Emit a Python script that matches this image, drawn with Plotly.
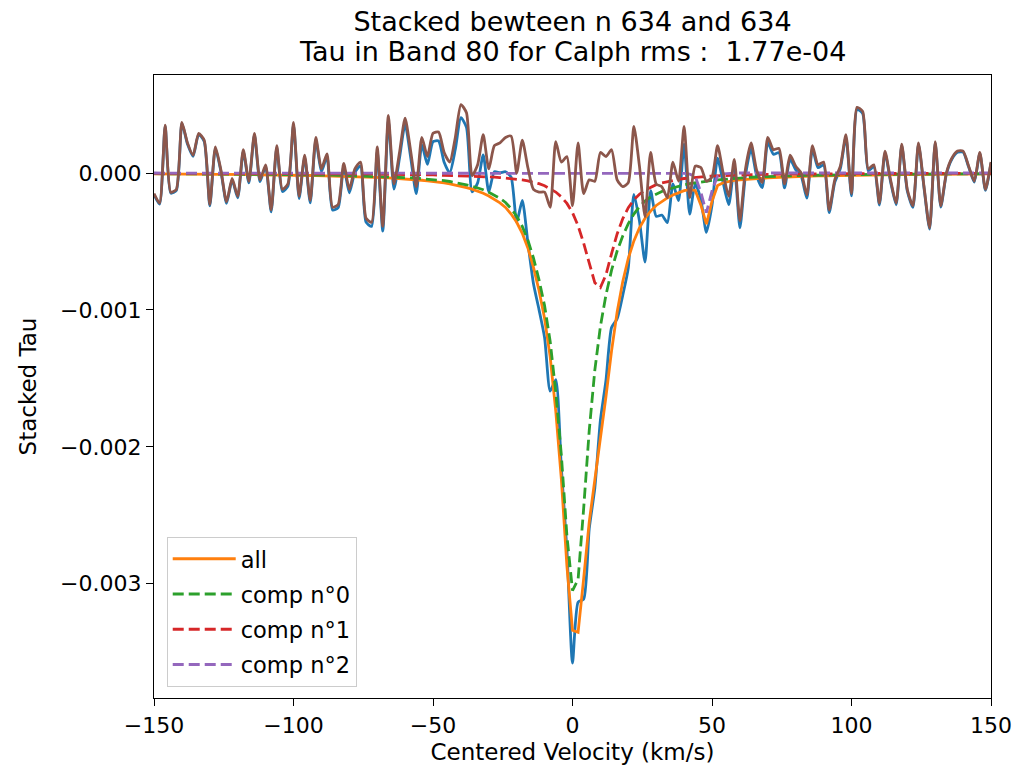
import plotly.graph_objects as go

# Velocity channels (km/s)
velocity = list(range(-150, 151, 2))

# Residual (data - fit), units of 1e-4
residual_e4 = [
    -1.5, -2.2, 3.5, -1.4, -1.2, 3.7, 2.2, 1.3, 2.9, 2.4,
    -2.3, 1.9, 0.2, -2.1, -0.4, -1.7, 1.7, -0.6, 2.9, -0.5,
    0.6, -2.7, 2.0, -1.2, -0.8, 3.7, -1.7, 1.3, -2.0, 2.6,
    0.3, 1.4, -2.5, -2.3, 0.7, -1.2, 0.3, 0.8, -3.3, -3.6,
    1.9, -3.9, 4.2, -0.8, 1.5, 4.0, 1.6, -1.0, 2.6, 1.2,
    2.9, 3.0, 1.5, 0.8, 2.6, 5.0, 4.4, -0.2, 0.6, 2.8,
    0.3, 2.0, 2.2, 2.6, 2.7, 0.0, 2.4, 0.4, -1.2, -1.4,
    -1.4, -2.5, 2.3, 0.8, 1.2, -2.4, 2.2, -1.5, -0.5, -0.6,
    1.5, 1.2, 1.7, -0.5, -1.0, -0.7, 3.4, 0.5, -3.2, 1.5,
    -0.8, -1.0, -1.8, 0.8, -0.6, 3.4, -1.8, 0.5, 0.4, -0.6,
    -0.3, 2.0, 0.0, -1.7, 1.0, -3.5, 0.3, 2.2, 0.2, -0.7,
    2.6, 1.7, 1.8, -0.8, 1.3, 0.5, 0.0, -1.6, 2.0, 0.6,
    0.8, -2.7, -0.5, 0.5, 2.8, -1.5, 4.8, 4.5, 0.3, 0.6,
    -2.2, 1.6, -0.5, -2.2, 2.1, -1.2, -2.4, 2.2, -1.0, -4.0,
    2.3, -2.4, 0.0, 1.1, 1.6, 1.6, 0.5, -0.6, 1.5, -1.2,
    0.8,
]

# Fit component n°0, units of 1e-4
comp0_e4 = [
    -0.05, -0.05, -0.05, -0.05, -0.06, -0.06, -0.06, -0.06, -0.06, -0.07,
    -0.07, -0.07, -0.07, -0.08, -0.08, -0.08, -0.09, -0.09, -0.09, -0.10,
    -0.10, -0.10, -0.11, -0.11, -0.12, -0.12, -0.12, -0.13, -0.13, -0.14,
    -0.15, -0.15, -0.16, -0.17, -0.18, -0.19, -0.20, -0.21, -0.22, -0.23,
    -0.24, -0.26, -0.27, -0.29, -0.31, -0.33, -0.35, -0.38, -0.41, -0.44,
    -0.47, -0.51, -0.56, -0.62, -0.69, -0.77, -0.86, -0.96, -1.08, -1.22,
    -1.40, -1.60, -1.85, -2.15, -2.60, -3.15, -3.90, -4.90, -6.20, -7.80,
    -9.70, -12.30, -16.00, -20.60, -26.50, -30.50, -29.70, -24.50, -18.80, -14.40,
    -11.20, -8.90, -7.10, -5.70, -4.60, -3.70, -3.00, -2.45, -2.05, -1.75,
    -1.52, -1.35, -1.20, -1.07, -0.96, -0.86, -0.78, -0.71, -0.65, -0.59,
    -0.54, -0.50, -0.46, -0.42, -0.39, -0.36, -0.33, -0.31, -0.29, -0.27,
    -0.25, -0.24, -0.22, -0.21, -0.20, -0.19, -0.18, -0.17, -0.16, -0.15,
    -0.15, -0.14, -0.13, -0.13, -0.12, -0.12, -0.11, -0.11, -0.10, -0.10,
    -0.10, -0.09, -0.09, -0.09, -0.08, -0.08, -0.08, -0.07, -0.07, -0.07,
    -0.07, -0.06, -0.06, -0.06, -0.06, -0.06, -0.05, -0.05, -0.05, -0.05,
    -0.05,
]

# Fit component n°1, units of 1e-4
comp1_e4 = [
    -0.02, -0.02, -0.02, -0.02, -0.02, -0.02, -0.02, -0.02, -0.02, -0.03,
    -0.03, -0.03, -0.03, -0.03, -0.03, -0.03, -0.03, -0.03, -0.03, -0.03,
    -0.03, -0.04, -0.04, -0.04, -0.04, -0.04, -0.04, -0.04, -0.05, -0.05,
    -0.05, -0.05, -0.05, -0.06, -0.06, -0.06, -0.06, -0.07, -0.07, -0.07,
    -0.08, -0.08, -0.09, -0.09, -0.10, -0.10, -0.11, -0.12, -0.12, -0.13,
    -0.14, -0.15, -0.16, -0.17, -0.18, -0.19, -0.21, -0.22, -0.24, -0.26,
    -0.28, -0.30, -0.33, -0.36, -0.40, -0.45, -0.50, -0.57, -0.67, -0.78,
    -0.93, -1.13, -1.39, -1.74, -2.22, -2.90, -3.85, -5.13, -6.68, -8.02,
    -8.36, -7.43, -5.89, -4.45, -3.34, -2.53, -1.96, -1.55, -1.25, -1.03,
    -0.85, -0.72, -0.62, -0.53, -0.46, -0.40, -0.35, -0.31, -0.28, -0.25,
    -0.22, -0.20, -0.18, -0.17, -0.15, -0.14, -0.13, -0.12, -0.11, -0.10,
    -0.10, -0.09, -0.09, -0.08, -0.08, -0.07, -0.07, -0.07, -0.06, -0.06,
    -0.06, -0.06, -0.05, -0.05, -0.05, -0.05, -0.05, -0.04, -0.04, -0.04,
    -0.04, -0.04, -0.04, -0.03, -0.03, -0.03, -0.03, -0.03, -0.03, -0.03,
    -0.03, -0.03, -0.03, -0.02, -0.02, -0.02, -0.02, -0.02, -0.02, -0.02,
    -0.02,
]

# Fit component n°2, units of 1e-4
comp2_e4 = [
    0, 0, 0, 0, 0, 0, 0, 0, 0, 0,
    0, 0, 0, 0, 0, 0, 0, 0, 0, 0,
    0, 0, 0, 0, 0, 0, 0, 0, 0, 0,
    0, 0, 0, 0, 0, 0, 0, 0, 0, 0,
    0, 0, 0, 0, 0, 0, 0, 0, 0, 0,
    0, 0, 0, 0, 0, 0, 0, 0, 0, 0,
    0, 0, 0, 0, 0, 0, 0, 0, 0, 0,
    0, 0, 0, 0, 0, 0, 0, 0, 0, 0,
    0, 0, 0, 0, 0, 0, 0, 0, 0, 0,
    0, 0, 0, 0, 0, -0.03, -0.08, -0.25, -1.40, -2.90,
    -1.30, -0.22, -0.07, -0.02, 0, 0, 0, 0, 0, 0,
    0, 0, 0, 0, 0, 0, 0, 0, 0, 0,
    0, 0, 0, 0, 0, 0, 0, 0, 0, 0,
    0, 0, 0, 0, 0, 0, 0, 0, 0, 0,
    0, 0, 0, 0, 0, 0, 0, 0, 0, 0,
    0,
]

UNIT = 1e-4
comp0 = [v * UNIT for v in comp0_e4]
comp1 = [v * UNIT for v in comp1_e4]
comp2 = [v * UNIT for v in comp2_e4]
residual = [v * UNIT for v in residual_e4]
fit_all = [a + b + c for a, b, c in zip(comp0, comp1, comp2)]
tau = [f + r for f, r in zip(fit_all, residual)]

FONT = "DejaVu Sans"
LW = 2.8
DASH = "11px,5px"

fig = go.Figure()
fig.add_trace(go.Scatter(x=velocity, y=tau, mode="lines",
                         line=dict(color="#1f77b4", width=LW, shape="spline", smoothing=0.6),
                         showlegend=False, name="data"))
fig.add_trace(go.Scatter(x=velocity, y=fit_all, mode="lines", line=dict(color="#ff7f0e", width=LW),
                         name="all", legendgroup="g1"))
fig.add_trace(go.Scatter(x=velocity, y=comp0, mode="lines", line=dict(color="#2ca02c", width=LW, dash=DASH),
                         name="comp n°0", legendgroup="g2"))
fig.add_trace(go.Scatter(x=velocity, y=comp1, mode="lines", line=dict(color="#d62728", width=LW, dash=DASH),
                         name="comp n°1", legendgroup="g3"))
fig.add_trace(go.Scatter(x=velocity, y=comp2, mode="lines", line=dict(color="#9467bd", width=LW, dash=DASH),
                         name="comp n°2", legendgroup="g4"))
fig.add_trace(go.Scatter(x=velocity, y=residual, mode="lines",
                         line=dict(color="#8c564b", width=LW, shape="spline", smoothing=0.6),
                         showlegend=False, name="residual"))

axis_common = dict(
    showline=True, linecolor="black", linewidth=1.3, mirror=True,
    ticks="outside", ticklen=7, tickwidth=1.3, tickcolor="black",
    showgrid=False, zeroline=False, automargin=False,
    tickfont=dict(family=FONT, size=22, color="black"),
)

fig.update_layout(
    width=1016, height=771,
    margin=dict(l=154, r=25, t=75, b=73),
    paper_bgcolor="white", plot_bgcolor="white",
    font=dict(family=FONT, color="black"),
    title=dict(
        text="Stacked bewteen n 634 and 634",
        font=dict(family=FONT, size=27, color="black"),
        x=0.5, xref="paper", xanchor="center",
        y=1 - 21.5 / 771, yref="container", yanchor="middle",
    ),
    annotations=[dict(
        text="Tau in Band 80 for Calph rms :\u00a0 1.77e-04",
        font=dict(family=FONT, size=27, color="black"),
        x=0.5, xref="paper", xanchor="center",
        y=(698 - 51) / 623, yref="paper", yanchor="middle",
        showarrow=False,
    )],
    xaxis=dict(
        range=[-150, 150],
        tickvals=[-150, -100, -50, 0, 50, 100, 150],
        title=dict(text="Centered Velocity (km/s)", font=dict(family=FONT, size=23, color="black"), standoff=7),
        **axis_common,
    ),
    yaxis=dict(
        range=[-0.003835, 0.000716],
        tickvals=[-0.003, -0.002, -0.001, 0.0],
        tickformat=".3f",
        title=dict(text="Stacked Tau", font=dict(family=FONT, size=23, color="black"), standoff=16),
        **axis_common,
    ),
    legend=dict(
        x=0.0152, y=0.259, xanchor="left", yanchor="top",
        bgcolor="rgba(255,255,255,0.8)", bordercolor="#cccccc", borderwidth=1,
        font=dict(family=FONT, size=22.5, color="black"),
        itemwidth=63,
        traceorder="grouped",
        tracegroupgap=3,
    ),
)

fig.write_html("out.html")
